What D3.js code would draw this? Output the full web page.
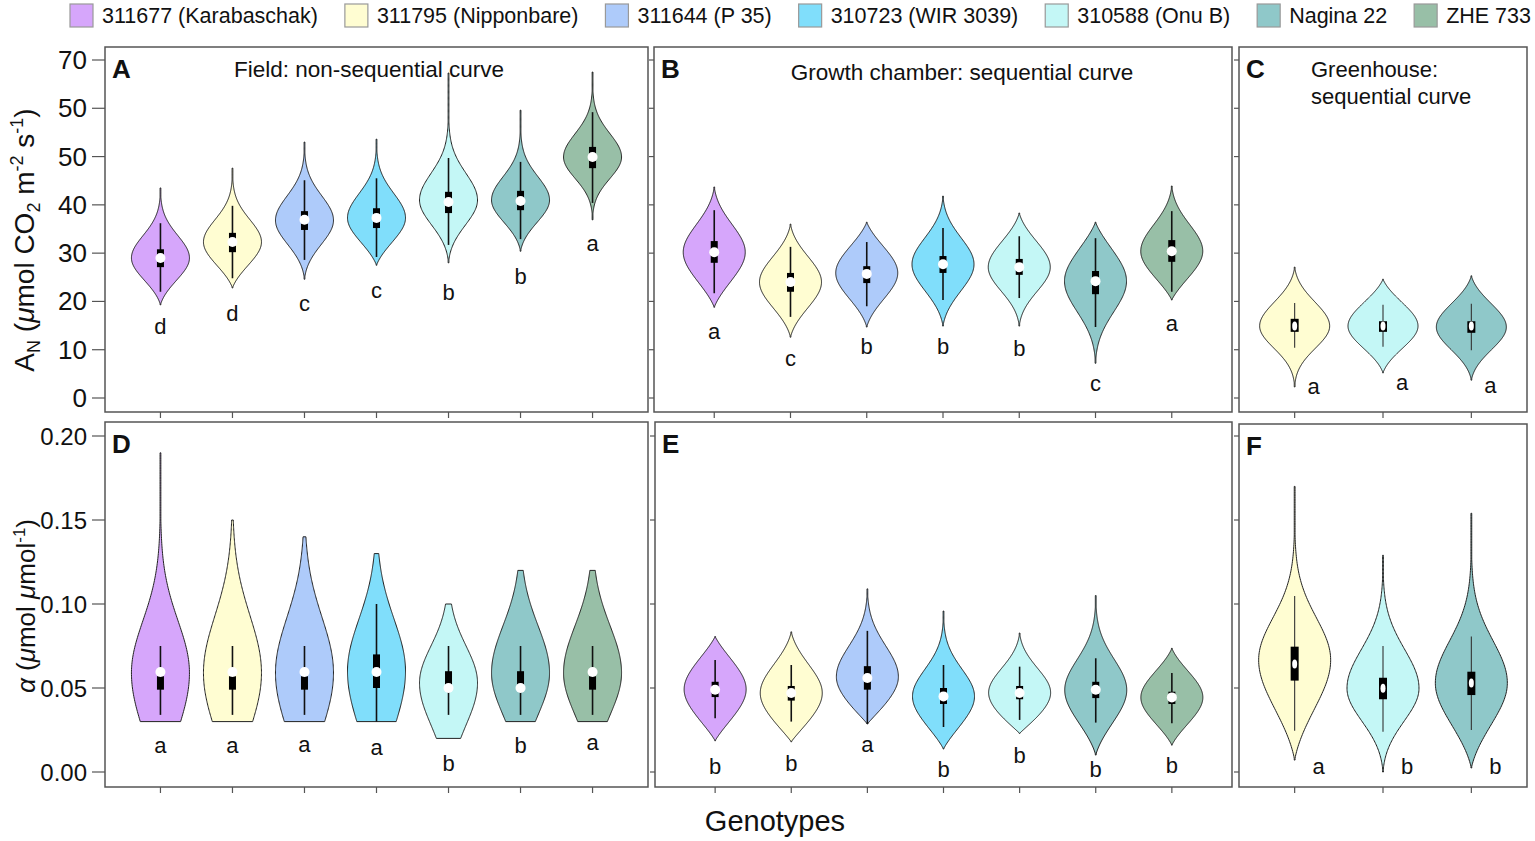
<!DOCTYPE html>
<html>
<head>
<meta charset="utf-8">
<script src="https://cdn.jsdelivr.net/npm/d3@7"></script>
<style>
body { margin: 0; background: #fff; }
text { font-family: "Liberation Sans", Arial, sans-serif; fill: #111; }
</style>
</head>
<body>
<div id="chart"></div>
<script>
// Genotypes and their colours
const genotypes = ["311677 (Karabaschak)", "311795 (Nipponbare)", "311644 (P 35)", "310723 (WIR 3039)", "310588 (Onu B)", "Nagina 22", "ZHE 733"];
const genotypeColors = ["#d6a6fb", "#fffdd2", "#aecbfa", "#80defb", "#c4f7f6", "#8fc8c9", "#98bfa7"];
const greenhouseGenotypes = ["311795 (Nipponbare)", "310588 (Onu B)", "Nagina 22"];

// Axis ticks (the top label really reads 50 twice in the source figure)
const anTicks = [0, 10, 20, 30, 40, 50, 60, 70];
const anTickLabels = ["0", "10", "20", "30", "40", "50", "50", "70"];
const alphaTicks = [0, 0.05, 0.10, 0.15, 0.20];
const alphaTickLabels = ["0.00", "0.05", "0.10", "0.15", "0.20"];

// violin rows: [min, whiskerLo, q1, median, q3, whiskerHi, max, mode, spreadDown, spreadUp]
const fieldAN = [
    [19.3, 22.0, 27.1, 29.0, 30.8, 36.2, 43.5, 29.0, 4.3, 4.6],
    [22.8, 24.8, 30.2, 32.3, 34.2, 39.8, 47.6, 32.3, 4.4, 4.6],
    [24.6, 28.6, 34.8, 36.9, 38.7, 45.1, 53.0, 36.8, 4.8, 5.0],
    [27.5, 29.2, 35.2, 37.3, 39.3, 45.5, 53.6, 37.3, 4.6, 5.0],
    [28.0, 31.7, 38.3, 40.6, 42.7, 49.7, 67.3, 41.0, 5.0, 5.5],
    [30.4, 32.9, 38.9, 40.8, 42.9, 48.9, 59.6, 41.0, 4.4, 4.8],
    [36.9, 40.4, 47.6, 49.9, 52.0, 59.2, 67.5, 49.9, 4.4, 4.8]
];
const fieldANLetters = ["d", "d", "c", "c", "b", "b", "a"];
const fieldANLetterAt = [14.9, 17.6, 19.7, 22.4, 21.9, 25.3, 32.1];

const chamberAN = [
    [18.8, 21.7, 28.0, 30.2, 32.5, 38.9, 43.7, 30.2, 5.5, 5.5],
    [12.6, 16.8, 22.0, 24.0, 25.9, 31.3, 36.0, 24.0, 5.0, 5.0],
    [14.7, 19.0, 23.8, 25.7, 27.3, 32.3, 36.4, 25.9, 5.0, 5.0],
    [14.9, 20.3, 25.9, 27.7, 29.4, 35.2, 41.8, 27.7, 5.3, 5.3],
    [14.9, 20.7, 25.5, 27.1, 28.8, 33.5, 38.3, 27.1, 4.8, 5.0],
    [7.2, 14.7, 21.5, 24.2, 26.3, 33.1, 36.4, 24.2, 6.2, 6.0],
    [20.3, 22.0, 28.2, 30.4, 32.7, 38.7, 43.9, 30.4, 5.0, 5.3]
];
const chamberANLetters = ["a", "c", "b", "b", "b", "c", "a"];
const chamberANLetterAt = [13.9, 8.3, 10.8, 10.8, 10.4, 3.1, 15.5];

const greenhouseAN = [
    [2.3, 10.4, 13.7, 14.9, 16.4, 19.7, 27.1, 14.9, 4.5, 4.8],
    [5.2, 10.6, 13.7, 14.9, 15.9, 19.3, 24.6, 14.9, 4.3, 4.5],
    [3.7, 9.9, 13.5, 14.9, 15.9, 19.5, 25.3, 14.7, 4.5, 4.6]
];
const greenhouseANLetters = ["a", "a", "a"];
const greenhouseANLetterAt = [2.5, 3.3, 2.7];

const fieldAlpha = [
    [0.030, 0.034, 0.049, 0.0595, 0.057, 0.075, 0.190, 0.059, 0.034, 0.031],
    [0.030, 0.034, 0.049, 0.0595, 0.057, 0.075, 0.150, 0.059, 0.034, 0.034],
    [0.030, 0.034, 0.049, 0.0595, 0.057, 0.075, 0.140, 0.059, 0.034, 0.033],
    [0.030, 0.030, 0.050, 0.0595, 0.070, 0.100, 0.130, 0.060, 0.034, 0.031],
    [0.020, 0.034, 0.052, 0.050, 0.060, 0.075, 0.100, 0.053, 0.025, 0.022],
    [0.030, 0.034, 0.052, 0.050, 0.060, 0.075, 0.120, 0.059, 0.025, 0.028],
    [0.030, 0.034, 0.049, 0.0595, 0.057, 0.075, 0.120, 0.059, 0.025, 0.028]
];
const fieldAlphaLetters = ["a", "a", "a", "a", "b", "b", "a"];
const fieldAlphaLetterAt = [0.0161, 0.0161, 0.0167, 0.0149, 0.0054, 0.0161, 0.0179];

const chamberAlpha = [
    [0.0186, 0.032, 0.0446, 0.049, 0.0537, 0.0667, 0.0806, 0.0492, 0.016, 0.016],
    [0.018, 0.030, 0.0425, 0.047, 0.0512, 0.0637, 0.0834, 0.047, 0.016, 0.016],
    [0.0286, 0.0286, 0.049, 0.056, 0.063, 0.084, 0.109, 0.0567, 0.016, 0.018],
    [0.0137, 0.0268, 0.0405, 0.045, 0.050, 0.0637, 0.0958, 0.045, 0.016, 0.016],
    [0.023, 0.031, 0.0433, 0.047, 0.0512, 0.0627, 0.0827, 0.0472, 0.014, 0.014],
    [0.0101, 0.0294, 0.044, 0.049, 0.0537, 0.0677, 0.105, 0.0488, 0.018, 0.018],
    [0.016, 0.029, 0.0405, 0.0444, 0.0478, 0.059, 0.0736, 0.0444, 0.014, 0.014]
];
const chamberAlphaLetters = ["b", "b", "a", "b", "b", "b", "b"];
const chamberAlphaLetterAt = [0.0036, 0.0054, 0.0167, 0.0018, 0.0101, 0.0018, 0.0042];

const greenhouseAlpha = [
    [0.0071, 0.0246, 0.0544, 0.0643, 0.0746, 0.1048, 0.170, 0.0667, 0.027, 0.025],
    [0.0, 0.024, 0.0433, 0.0498, 0.0561, 0.075, 0.129, 0.0498, 0.019, 0.023],
    [0.0024, 0.025, 0.0458, 0.053, 0.0597, 0.0806, 0.154, 0.053, 0.023, 0.025]
];
const greenhouseAlphaLetters = ["a", "b", "b"];
const greenhouseAlphaLetterAt = [0.0036, 0.0036, 0.0036];

// Layout
const W = 1535, H = 841;
const svg = d3.select("#chart").append("svg")
    .attr("width", W)
    .attr("height", H);

const yTop = d3.scaleLinear().domain([0, 70]).range([398, 60]);
const yBottom = d3.scaleLinear().domain([0, 0.2]).range([772, 436]);

const panels = [
    { key: "A", rows: fieldAN, letters: fieldANLetters, letterAt: fieldANLetterAt, cats: genotypes, x0: 105, x1: 648, y0: 47, y1: 412, pad: 0.77, y: yTop, halfW: 29, taper: true, small: false, letterDx: 0 },
    { key: "B", rows: chamberAN, letters: chamberANLetters, letterAt: chamberANLetterAt, cats: genotypes, x0: 654, x1: 1232, y0: 47, y1: 412, pad: 0.79, y: yTop, halfW: 31, taper: true, small: false, letterDx: 0 },
    { key: "C", rows: greenhouseAN, letters: greenhouseANLetters, letterAt: greenhouseANLetterAt, cats: greenhouseGenotypes, x0: 1239, x1: 1527, y0: 47, y1: 412, pad: 0.63, y: yTop, halfW: 35, taper: true, small: true, letterDx: 19 },
    { key: "D", rows: fieldAlpha, letters: fieldAlphaLetters, letterAt: fieldAlphaLetterAt, cats: genotypes, x0: 105, x1: 648, y0: 422, y1: 787, pad: 0.77, y: yBottom, halfW: 29, taper: false, small: false, letterDx: 0 },
    { key: "E", rows: chamberAlpha, letters: chamberAlphaLetters, letterAt: chamberAlphaLetterAt, cats: genotypes, x0: 655, x1: 1232, y0: 422, y1: 787, pad: 0.79, y: yBottom, halfW: 31, taper: true, small: false, letterDx: 0 },
    { key: "F", rows: greenhouseAlpha, letters: greenhouseAlphaLetters, letterAt: greenhouseAlphaLetterAt, cats: greenhouseGenotypes, x0: 1239, x1: 1527, y0: 424, y1: 787, pad: 0.63, y: yBottom, halfW: 36, taper: true, small: true, letterDx: 24 }
];

const color = d3.scaleOrdinal().domain(genotypes).range(genotypeColors);

// half width of a violin at value v (smooth kernel-like outline)
function halfWidth(v, r, halfW, taper) {
    const lo = r[0], hi = r[6], mode = r[7];
    const d = v - mode;
    const s = d < 0 ? r[8] : r[9];
    let f = Math.exp(-0.5 * (d / s) * (d / s));
    if (taper) {
        const t = d < 0 ? (mode - v) / (mode - lo) : (v - mode) / (hi - mode);
        f *= 1 - Math.pow(Math.min(Math.max(t, 0), 1), 6);
    }
    return Math.max(halfW * f, 0.4);
}

panels.forEach(p => {
    const g = svg.append("g");
    const x = d3.scalePoint().domain(p.cats).range([p.x0, p.x1]).padding(p.pad);

    // frame
    g.append("rect")
        .attr("x", p.x0).attr("y", p.y0)
        .attr("width", p.x1 - p.x0).attr("height", p.y1 - p.y0)
        .attr("fill", "none").attr("stroke", "#555").attr("stroke-width", 1.5);

    // left ticks
    const ticks = p.y === yTop ? anTicks : alphaTicks;
    const labels = p.y === yTop ? anTickLabels : alphaTickLabels;
    const withLabels = p.key === "A" || p.key === "D";
    g.selectAll(".ytick").data(ticks).enter().append("line")
        .attr("x1", p.x0 - (withLabels ? 13 : 5)).attr("x2", p.x0)
        .attr("y1", d => p.y(d)).attr("y2", d => p.y(d))
        .attr("stroke", "#555").attr("stroke-width", 1.2);
    if (withLabels) {
        g.selectAll(".ylab").data(ticks).enter().append("text")
            .attr("x", p.x0 - 18).attr("y", d => p.y(d) + 9)
            .attr("text-anchor", "end")
            .style("font-size", p.key === "A" ? "26px" : "24px")
            .text((d, i) => labels[i]);
    }

    // bottom ticks
    g.selectAll(".xtick").data(p.cats).enter().append("line")
        .attr("x1", d => x(d)).attr("x2", d => x(d))
        .attr("y1", p.y1).attr("y2", p.y1 + 6)
        .attr("stroke", "#555").attr("stroke-width", 1.2);

    // violins
    p.rows.forEach((r, i) => {
        const cx = x(p.cats[i]);
        const n = 160;
        const vals = d3.range(n + 1).map(k => r[0] + (r[6] - r[0]) * k / n);
        const area = d3.area()
            .x0(v => cx - halfWidth(v, r, p.halfW, p.taper))
            .x1(v => cx + halfWidth(v, r, p.halfW, p.taper))
            .y(v => p.y(v));
        g.append("path")
            .attr("d", area(vals))
            .attr("fill", color(p.cats[i]))
            .attr("stroke", "#222").attr("stroke-width", 1);

        // whisker
        g.append("line")
            .attr("x1", cx).attr("x2", cx)
            .attr("y1", p.y(r[1])).attr("y2", p.y(r[5]))
            .attr("stroke", p.small ? "#333" : "#111")
            .attr("stroke-width", p.small ? 1.1 : 1.6);
        // box
        const bw = p.small ? 8 : 7;
        g.append("rect")
            .attr("x", cx - bw / 2).attr("width", bw)
            .attr("y", p.y(r[4])).attr("height", p.y(r[2]) - p.y(r[4]))
            .attr("fill", "#000");
        // median
        if (p.small) {
            g.append("ellipse")
                .attr("cx", cx).attr("cy", p.y(r[3]))
                .attr("rx", 2.5).attr("ry", 4.5)
                .attr("fill", "#fff");
        } else {
            g.append("circle")
                .attr("cx", cx).attr("cy", p.y(r[3]))
                .attr("r", 5)
                .attr("fill", "#fff");
        }

        // significance letter
        g.append("text")
            .attr("x", cx + p.letterDx)
            .attr("y", p.y(p.letterAt[i]) + 8)
            .attr("text-anchor", "middle")
            .style("font-size", "22px")
            .text(p.letters[i]);
    });

    // panel letter
    g.append("text")
        .attr("x", p.x0 + 7).attr("y", p.y0 + 31)
        .style("font-size", "26px").style("font-weight", "bold")
        .text(p.key);
});

// Panel titles
svg.append("text").attr("x", 369).attr("y", 77).attr("text-anchor", "middle")
    .style("font-size", "22.5px").text("Field: non-sequential curve");
svg.append("text").attr("x", 962).attr("y", 80).attr("text-anchor", "middle")
    .style("font-size", "22.5px").text("Growth chamber: sequential curve");
svg.append("text").attr("x", 1311).attr("y", 77)
    .style("font-size", "22px").text("Greenhouse:");
svg.append("text").attr("x", 1311).attr("y", 104)
    .style("font-size", "22px").text("sequential curve");

// Y axis titles
const t1 = svg.append("text")
    .attr("transform", "translate(34,240) rotate(-90)")
    .attr("text-anchor", "middle")
    .style("font-size", "28px");
t1.append("tspan").text("A");
t1.append("tspan").attr("dy", 6).style("font-size", "18px").text("N");
t1.append("tspan").attr("dy", -6).text(" (");
t1.append("tspan").style("font-style", "italic").text("μ");
t1.append("tspan").text("mol CO");
t1.append("tspan").attr("dy", 6).style("font-size", "18px").text("2");
t1.append("tspan").attr("dy", -6).text(" m");
t1.append("tspan").attr("dy", -11).style("font-size", "18px").text("-2");
t1.append("tspan").attr("dy", 11).text(" s");
t1.append("tspan").attr("dy", -11).style("font-size", "18px").text("-1");
t1.append("tspan").attr("dy", 11).text(")");

const t2 = svg.append("text")
    .attr("transform", "translate(35,606) rotate(-90)")
    .attr("text-anchor", "middle")
    .style("font-size", "26px");
t2.append("tspan").style("font-style", "italic").text("α");
t2.append("tspan").text(" (");
t2.append("tspan").style("font-style", "italic").text("μ");
t2.append("tspan").text("mol ");
t2.append("tspan").style("font-style", "italic").text("μ");
t2.append("tspan").text("mol");
t2.append("tspan").attr("dy", -10).style("font-size", "17px").text("-1");
t2.append("tspan").attr("dy", 10).text(")");

// X axis title
svg.append("text").attr("x", 775).attr("y", 831).attr("text-anchor", "middle")
    .style("font-size", "29px").text("Genotypes");

// Legend: measure labels, then spread the items evenly between x=70 and x=1531
const legend = svg.append("g");
const items = genotypes.map((gname, i) => {
    const t = legend.append("text")
        .attr("y", 23)
        .style("font-size", "21.5px")
        .text(gname);
    return { t: t, w: t.node().getComputedTextLength(), c: genotypeColors[i] };
});
const used = d3.sum(items, d => 32 + d.w);
const gap = (1531 - 70 - used) / (items.length - 1);
let lx = 70;
items.forEach(d => {
    legend.append("rect")
        .attr("x", lx).attr("y", 4).attr("width", 23).attr("height", 23)
        .attr("fill", d.c).attr("stroke", "#999").attr("stroke-width", 1.2);
    d.t.attr("x", lx + 32);
    lx += 32 + d.w + gap;
});
</script>
</body>
</html>
